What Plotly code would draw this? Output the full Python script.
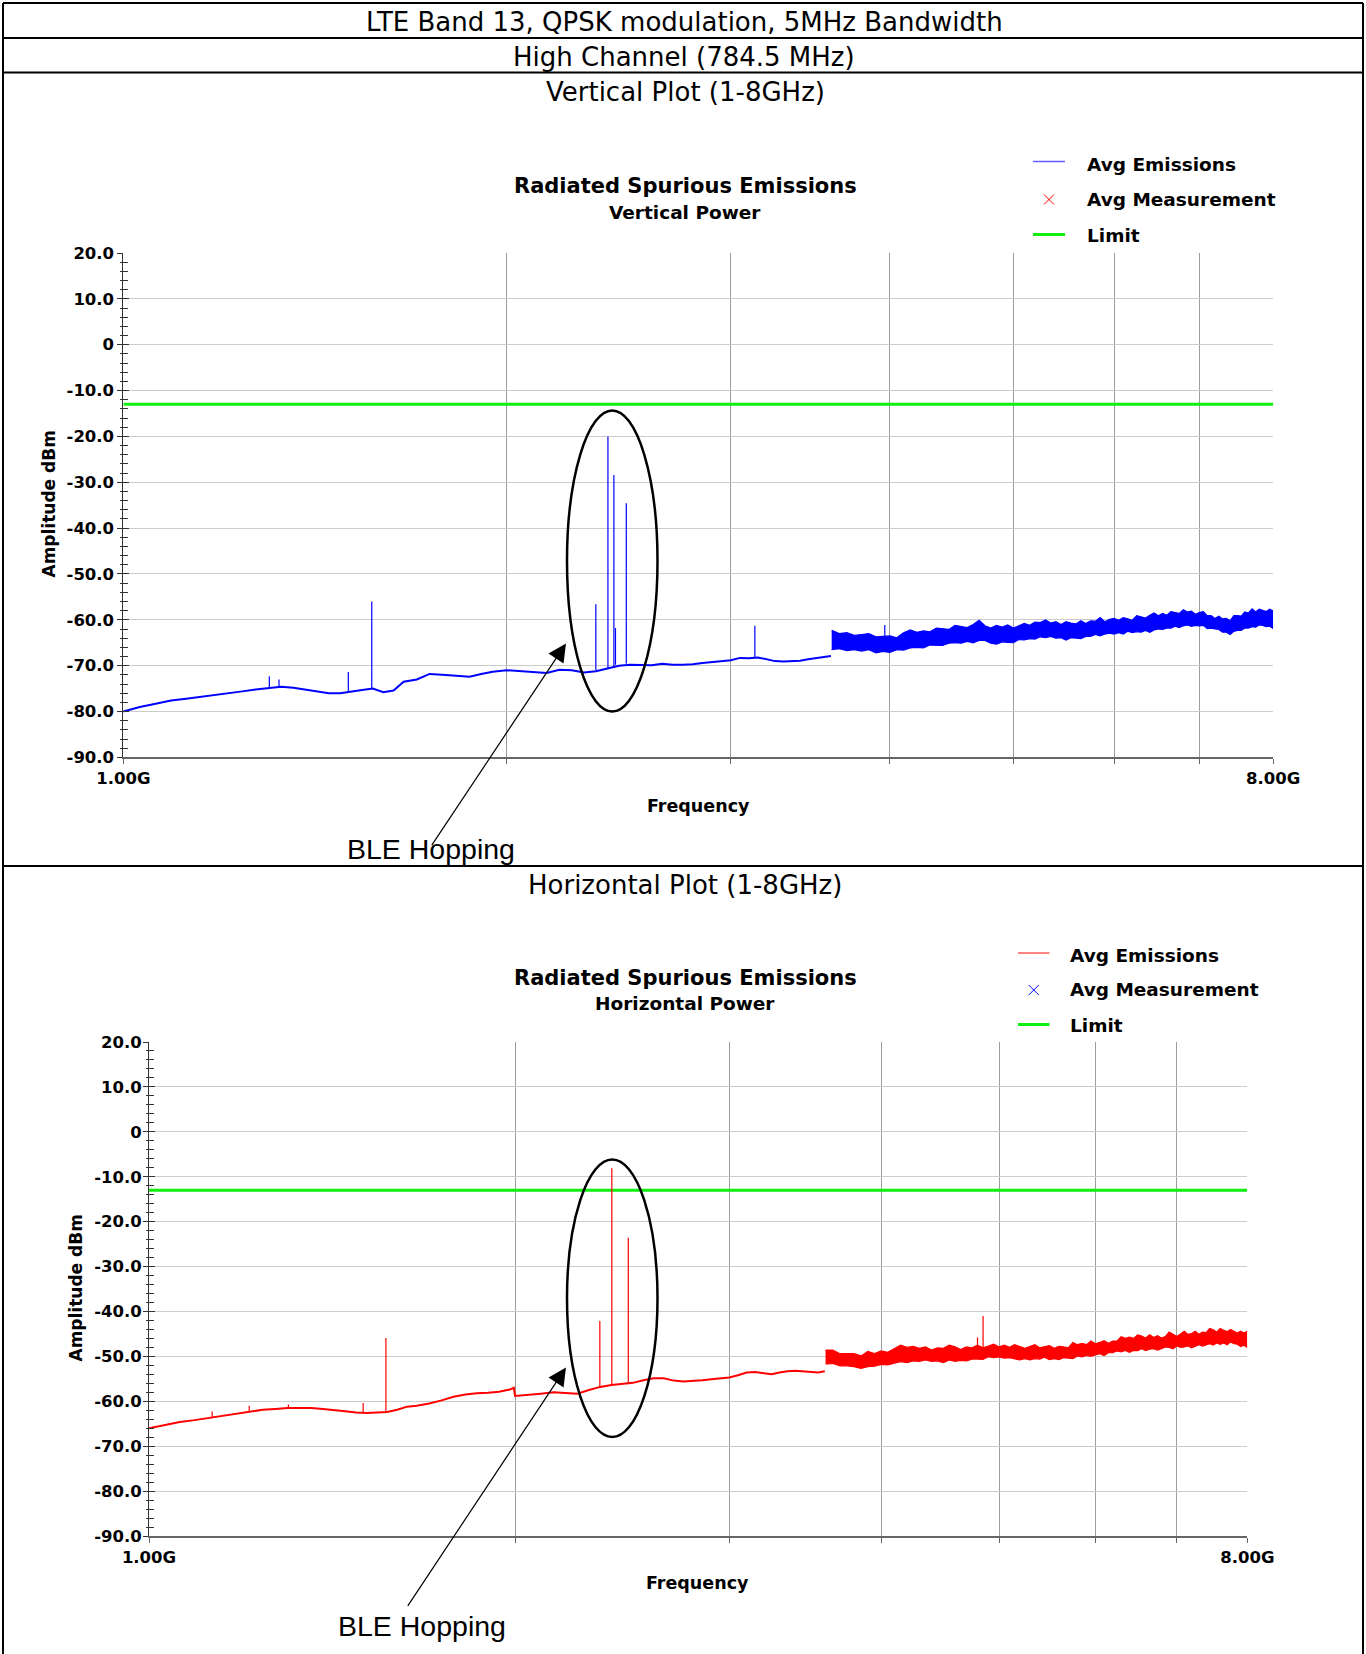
import math
import plotly.graph_objects as go

W, H = 1366, 1654


def px(x):
    return x / W


def py(y):
    return 1 - y / H


# ------------------------------------------------------------------ data
limit_dbm = -13.0
ytick_vals = [20, 10, 0, -10, -20, -30, -40, -50, -60, -70, -80, -90]
ytick_text = ["20.0", "10.0", "0", "-10.0", "-20.0", "-30.0", "-40.0",
              "-50.0", "-60.0", "-70.0", "-80.0", "-90.0"]
xtick_vals = [1, 2, 3, 4, 5, 6, 7, 8]
xtick_text = ["1.00G", "", "", "", "", "", "", "8.00G"]

# ---- Vertical polarisation (GHz / dBm), lower (smooth) part
v_base_f = [1.00, 1.03, 1.06, 1.09, 1.12, 1.15, 1.18, 1.21, 1.24, 1.27, 1.30,
            1.33, 1.36, 1.39, 1.42, 1.45, 1.48, 1.51, 1.54, 1.57, 1.60, 1.63,
            1.66, 1.70, 1.74, 1.78, 1.82, 1.87, 1.91, 1.95, 2.00, 2.05, 2.10,
            2.15, 2.20, 2.25, 2.30, 2.35, 2.40, 2.45, 2.50, 2.55, 2.60, 2.65,
            2.70, 2.75, 2.80, 2.85, 2.90, 2.95, 3.00, 3.05, 3.10, 3.15, 3.20,
            3.25, 3.30, 3.35, 3.40, 3.45, 3.50, 3.55, 3.595]
v_base_db = [-80.0, -79.0, -78.3, -77.6, -77.2, -76.8, -76.5, -76.0, -75.6,
             -75.2, -74.9, -74.6, -74.8, -75.2, -75.5, -76.0, -76.0, -75.6,
             -75.3, -75.0, -75.8, -75.4, -73.5, -73.0, -71.8, -72.0, -72.2,
             -72.4, -71.8, -71.3, -71.0, -71.2, -71.4, -71.6, -70.9, -71.0,
             -71.5, -71.2, -70.6, -70.0, -69.8, -69.9, -69.9, -69.6, -69.8,
             -69.8, -69.7, -69.4, -69.2, -69.1, -68.8, -68.3, -68.4, -68.2,
             -68.6, -69.0, -69.1, -69.0, -68.9, -68.6, -68.3, -68.0, -67.9]
v_spike_f = [1.302, 1.325, 1.502, 1.567, 2.350, 2.402, 2.428, 2.435, 2.483,
             3.133, 3.963]
v_spike_base = [-74.9, -74.8, -75.8, -75.0, -71.0, -70.6, -70.4, -69.8,
                -69.6, -68.2, -64.5]
v_spike_peak = [-72.3, -73.0, -71.4, -56.0, -56.6, -20.0, -28.4, -61.8,
                -34.6, -61.3, -61.1]

# ---- noisy upper band (3.6 - 8 GHz): read top / bottom edge of the trace
band_f = [3.60, 3.65, 3.70, 3.75, 3.80, 3.85, 3.90, 3.95, 4.00, 4.05, 4.10,
          4.15, 4.20, 4.25, 4.30, 4.35, 4.40, 4.45, 4.50, 4.55, 4.60, 4.65,
          4.70, 4.75, 4.80, 4.85, 4.90, 4.95, 5.00, 5.05, 5.10, 5.15, 5.20,
          5.25, 5.30, 5.35, 5.40, 5.45, 5.50, 5.55, 5.60, 5.65, 5.70, 5.75,
          5.80, 5.85, 5.90, 5.95, 6.00, 6.05, 6.10, 6.15, 6.20, 6.25, 6.30,
          6.35, 6.40, 6.45, 6.50, 6.55, 6.60, 6.65, 6.70, 6.75, 6.80, 6.85,
          6.90, 6.95, 7.00, 7.05, 7.10, 7.15, 7.20, 7.25, 7.30, 7.35, 7.40,
          7.45, 7.50, 7.55, 7.60, 7.65, 7.70, 7.75, 7.80, 7.85, 7.90, 7.95,
          8.00]
v_band_hi = [-62.3, -63.0, -62.8, -63.4, -63.2, -63.0, -63.7, -63.6, -63.5,
             -63.9, -62.8, -62.2, -62.7, -62.4, -62.6, -61.8, -62.0, -62.1,
             -61.2, -61.5, -61.7, -61.0, -60.1, -61.3, -61.8, -61.2, -61.6,
             -61.1, -61.8, -61.3, -60.8, -61.2, -60.5, -60.6, -60.0, -60.7,
             -60.4, -61.0, -60.4, -60.7, -60.9, -60.2, -60.8, -60.2, -60.3,
             -59.5, -60.4, -59.9, -59.7, -60.1, -59.5, -59.8, -60.1, -59.1,
             -59.4, -59.6, -59.0, -58.5, -59.1, -58.6, -59.0, -58.2, -58.4,
             -58.6, -57.8, -58.3, -58.1, -58.8, -58.4, -58.2, -59.1, -59.1,
             -59.7, -59.2, -59.8, -59.7, -60.2, -59.1, -59.1, -59.2, -58.3,
             -58.5, -57.6, -58.3, -57.7, -57.9, -58.2, -57.7, -58.1]
v_band_lo = [-66.5, -66.3, -66.7, -66.5, -66.8, -66.5, -67.2, -66.9, -67.1,
             -66.5, -66.6, -66.1, -66.0, -66.1, -65.5, -65.6, -65.6, -65.1,
             -65.0, -65.1, -64.7, -65.0, -64.5, -64.5, -65.1, -65.3, -64.8,
             -64.9, -65.0, -64.3, -64.4, -64.1, -64.2, -63.7, -63.9, -63.6,
             -64.0, -63.9, -64.4, -63.9, -64.0, -64.1, -63.6, -63.6, -63.2,
             -63.5, -63.1, -62.9, -63.1, -62.8, -63.1, -62.5, -62.8, -62.6,
             -62.7, -62.3, -62.7, -62.2, -62.0, -62.1, -61.8, -61.8, -61.4,
             -61.7, -61.3, -61.1, -61.4, -61.2, -61.3, -61.2, -61.9, -61.8,
             -62.0, -62.1, -62.7, -62.7, -63.2, -62.5, -62.3, -62.3, -61.8,
             -61.8, -61.5, -61.6, -61.1, -61.2, -61.5, -61.4, -61.9]

# ---- Horizontal polarisation (GHz / dBm), lower (smooth) part
h_base_f = [1.00, 1.03, 1.06, 1.09, 1.12, 1.15, 1.18, 1.21, 1.24, 1.27, 1.30,
            1.33, 1.36, 1.39, 1.42, 1.45, 1.48, 1.51, 1.54, 1.57, 1.60, 1.63,
            1.66, 1.70, 1.74, 1.78, 1.82, 1.86, 1.90, 1.94, 1.98, 1.995, 2.00,
            2.05, 2.10, 2.15, 2.20, 2.25, 2.30, 2.35, 2.40, 2.45, 2.50, 2.55,
            2.60, 2.65, 2.70, 2.75, 2.80, 2.85, 2.90, 2.95, 3.00, 3.05, 3.10,
            3.15, 3.20, 3.25, 3.30, 3.35, 3.40, 3.45, 3.50, 3.55, 3.595]
h_base_db = [-66.0, -65.3, -64.6, -64.2, -63.7, -63.2, -62.7, -62.2, -61.9,
             -61.7, -61.5, -61.5, -61.5, -61.7, -61.9, -62.2, -62.5, -62.6,
             -62.5, -62.4, -61.9, -61.2, -61.0, -60.5, -59.8, -59.0, -58.5,
             -58.2, -58.1, -57.9, -57.4, -57.0, -58.8, -58.6, -58.3, -58.0,
             -58.1, -58.3, -57.5, -56.8, -56.4, -56.2, -55.9, -55.3, -54.9,
             -54.9, -55.4, -55.6, -55.5, -55.3, -55.1, -54.9, -54.7, -54.2,
             -53.6, -53.5, -53.8, -54.0, -53.6, -53.3, -53.2, -53.3, -53.5,
             -53.6, -53.3]
h_spike_f = [1.127, 1.209, 1.302, 1.500, 1.566, 2.348, 2.402, 2.478, 4.800,
             4.851]
h_spike_base = [-63.6, -62.2, -61.5, -62.6, -62.4, -56.8, -56.4, -56.2,
                -49.5, -49.3]
h_spike_peak = [-62.3, -61.0, -60.7, -60.4, -45.9, -42.1, -8.1, -23.6,
                -45.8, -41.0]
h_band_hi = [-48.6, -48.6, -49.4, -49.4, -49.4, -49.9, -48.9, -49.4, -48.8,
             -49.1, -48.2, -47.5, -48.0, -47.8, -48.2, -47.9, -48.6, -48.1,
             -48.2, -47.5, -47.9, -48.5, -47.9, -48.1, -47.5, -48.1, -47.7,
             -47.3, -47.9, -47.5, -48.0, -47.4, -47.8, -48.2, -47.8, -47.4,
             -48.1, -47.9, -47.6, -48.2, -47.8, -47.9, -48.1, -46.9, -47.4,
             -47.1, -47.4, -46.6, -47.2, -46.9, -46.5, -47.1, -46.6, -46.6,
             -45.6, -46.0, -45.7, -46.0, -45.2, -45.5, -45.9, -45.2, -45.8,
             -45.4, -45.9, -45.6, -44.6, -45.1, -45.6, -45.0, -44.4, -45.1,
             -44.9, -44.4, -45.1, -44.6, -44.7, -43.8, -44.1, -44.6, -43.8,
             -44.2, -44.5, -44.0, -44.4, -44.8, -44.4, -44.8, -44.4]
h_band_lo = [-51.7, -51.6, -52.1, -52.1, -52.3, -52.7, -52.3, -52.2, -51.8,
             -51.9, -51.5, -51.2, -51.4, -51.0, -51.1, -50.8, -51.1, -51.0,
             -51.4, -50.8, -51.1, -50.9, -51.0, -50.6, -50.6, -50.7, -50.1,
             -50.3, -50.1, -50.4, -50.3, -50.5, -50.8, -50.5, -50.8, -50.5,
             -50.6, -50.2, -50.7, -50.5, -50.7, -50.3, -50.4, -50.5, -49.9,
             -50.1, -49.8, -50.0, -49.7, -49.4, -49.8, -49.2, -49.2, -48.8,
             -49.0, -48.7, -49.1, -48.7, -48.7, -48.3, -48.7, -48.4, -48.3,
             -48.6, -48.3, -47.9, -48.0, -48.3, -47.7, -48.0, -47.9, -47.7,
             -48.1, -47.8, -47.4, -47.7, -47.4, -47.2, -47.5, -47.0, -47.3,
             -47.0, -47.4, -46.8, -47.2, -47.3, -47.8, -47.5, -48.0]

# ------------------------------------------------------------------ style
BLUE = "#0000ff"
RED = "#ff0000"
GREEN = "#11ee11"
TXT = "DejaVu Sans"
AX = "#333333"

fig = go.Figure()


def add_panel(xa, ya, color, bf, bdb, sf, sb, sp, bandf, bandhi, bandlo):
    fig.add_trace(go.Scatter(x=[xtick_vals[0], xtick_vals[-1]],
                             y=[limit_dbm, limit_dbm], mode="lines",
                             line=dict(color=GREEN, width=3),
                             xaxis=xa, yaxis=ya, showlegend=False,
                             hoverinfo="skip"))
    fig.add_trace(go.Scatter(x=bf, y=bdb, mode="lines",
                             line=dict(color=color, width=2),
                             xaxis=xa, yaxis=ya, showlegend=False))
    fig.add_trace(go.Scatter(x=bandf, y=bandlo, mode="lines",
                             line=dict(color=color, width=1.2),
                             xaxis=xa, yaxis=ya, showlegend=False))
    fig.add_trace(go.Scatter(x=bandf, y=bandhi, mode="lines", fill="tonexty",
                             fillcolor=color,
                             line=dict(color=color, width=1.2),
                             xaxis=xa, yaxis=ya, showlegend=False))
    spx, spy = [], []
    for f, b, p in zip(sf, sb, sp):
        spx += [f, f, None]
        spy += [b, p, None]
    fig.add_trace(go.Scatter(x=spx, y=spy, mode="lines",
                             line=dict(color=color, width=1.2),
                             xaxis=xa, yaxis=ya, showlegend=False))


add_panel("x", "y", BLUE, v_base_f, v_base_db, v_spike_f, v_spike_base,
          v_spike_peak, band_f, v_band_hi, v_band_lo)
add_panel("x2", "y2", RED, h_base_f, h_base_db, h_spike_f, h_spike_base,
          h_spike_peak, band_f, h_band_hi, h_band_lo)
# placeholders so the overlay (inside-tick) axes are drawn
fig.add_trace(go.Scatter(x=[None], y=[None], xaxis="x", yaxis="y3",
                         showlegend=False, hoverinfo="skip"))
fig.add_trace(go.Scatter(x=[None], y=[None], xaxis="x2", yaxis="y4",
                         showlegend=False, hoverinfo="skip"))

tickfont = dict(family=TXT, size=16.5, color="black", weight="bold")
xrange = [math.log10(xtick_vals[0]), math.log10(xtick_vals[-1])]
yrange = [ytick_vals[-1], ytick_vals[0]]


def xaxis(domain, anchor):
    return dict(domain=domain, anchor=anchor, type="log", range=xrange,
                tickmode="array", tickvals=xtick_vals, ticktext=xtick_text,
                ticks="outside", ticklen=5, tickcolor="#666666",
                showline=True, linecolor="#666666", linewidth=1.5,
                showgrid=True, gridcolor="#9c9c9c", gridwidth=1,
                zeroline=False, tickfont=tickfont, fixedrange=True,
                automargin=False)


def yaxis(domain, anchor, standoff):
    return dict(domain=domain, anchor=anchor, range=yrange, tickmode="array",
                tickvals=ytick_vals, ticktext=ytick_text, ticks="outside",
                ticklen=5, tickcolor=AX, showline=True, linecolor=AX,
                linewidth=1, showgrid=True, gridcolor="#cccccc", gridwidth=1,
                zeroline=False, tickfont=tickfont, ticklabelstandoff=standoff,
                minor=dict(ticks="outside", ticklen=2, tickmode="linear",
                           tick0=0, dtick=2, tickcolor=AX, showgrid=False),
                fixedrange=True, automargin=False)


def yover(over, anchor):
    return dict(overlaying=over, anchor=anchor, side="left", range=yrange,
                tickmode="array", tickvals=ytick_vals, ticks="inside",
                ticklen=6, tickcolor=AX, showticklabels=False,
                showgrid=False, zeroline=False, showline=False,
                minor=dict(ticks="inside", ticklen=5, tickmode="linear",
                           tick0=0, dtick=2, tickcolor=AX, showgrid=False),
                fixedrange=True, automargin=False)


fig.update_layout(
    width=W, height=H, autosize=False,
    margin=dict(l=0, r=0, t=0, b=0, pad=0, autoexpand=False),
    paper_bgcolor="white", plot_bgcolor="white", showlegend=False,
    xaxis=xaxis([px(123.4), px(1273.2)], "y"),
    yaxis=yaxis([py(757.4), py(253)], "x", 0),
    xaxis2=xaxis([px(149), px(1247.3)], "y2"),
    yaxis2=yaxis([py(1536), py(1042)], "x2", -2),
    yaxis3=yover("y", "x"),
    yaxis4=yover("y2", "x2"),
)

# ------------------------------------------------------------------ frame
shapes = []


def pline(x0, y0, x1, y1, color="black", width=2):
    shapes.append(dict(type="line", xref="paper", yref="paper",
                       x0=px(x0), y0=py(y0), x1=px(x1), y1=py(y1),
                       line=dict(color=color, width=width)))


pline(3, 3, 1363, 3)
pline(3, 38, 1363, 38)
pline(3, 72.5, 1363, 72.5)
pline(3, 866, 1363, 866)
pline(3, 3, 3, 1654)
pline(1363, 3, 1363, 1654)

# ellipses
for (x0, y0, x1, y1) in [(567, 410.5, 657.5, 711.5), (567, 1159.5, 657.5, 1437)]:
    shapes.append(dict(type="circle", xref="paper", yref="paper",
                       x0=px(x0), x1=px(x1), y0=py(y1), y1=py(y0),
                       line=dict(color="black", width=2.5)))


# legend samples
def legend_block(sx0, sx1, tx, rows, line_color, x_color):
    r1, r2, r3 = rows
    pline(sx0, r1 - 2.5, sx1, r1 - 2.5, color=line_color, width=1.5)
    cx = (sx0 + sx1) / 2
    pline(cx - 5, r2 - 5, cx + 5, r2 + 5, color=x_color, width=1)
    pline(cx - 5, r2 + 5, cx + 5, r2 - 5, color=x_color, width=1)
    pline(sx0, r3 - 0.5, sx1, r3 - 0.5, color=GREEN, width=3)
    out = []
    for lab, r in zip(["Avg Emissions", "Avg Measurement", "Limit"], rows):
        out.append(dict(text=lab, x=px(tx), y=py(r), xanchor="left",
                        yanchor="middle"))
    return out


leg_top = legend_block(1033, 1065, 1085, (164, 199.5, 235), "#5c5cff", RED)
leg_bot = legend_block(1018, 1049.5, 1068, (955.5, 990, 1025), "#ff5c5c", BLUE)

fig.update_layout(shapes=shapes)

# ------------------------------------------------------------------ text
ann = []


def text(t, x, y, size, bold=False, family=TXT, angle=0, anchor="center"):
    ann.append(dict(text=t, x=px(x), y=py(y), xref="paper", yref="paper",
                    xanchor=anchor, yanchor="middle", showarrow=False,
                    textangle=angle,
                    font=dict(family=family, size=size, color="black",
                              weight="bold" if bold else "normal")))


text("LTE Band 13, QPSK modulation, 5MHz Bandwidth", 684, 22.5, 26)
text("High Channel (784.5 MHz)", 684, 57, 26)
text("Vertical Plot (1-8GHz)", 685, 92, 26)
text("Horizontal Plot (1-8GHz)", 685, 885, 26)

text("Radiated Spurious Emissions", 685, 186, 21, bold=True)
text("Vertical Power", 685, 212, 18.5, bold=True)
text("Radiated Spurious Emissions", 685, 977.5, 21, bold=True)
text("Horizontal Power", 685, 1003.5, 18.5, bold=True)

text("Frequency", 698, 806, 17.5, bold=True)
text("Frequency", 697, 1582.5, 17.5, bold=True)
text("Amplitude dBm", 48.5, 504, 17, bold=True, angle=-90)
text("Amplitude dBm", 75.5, 1288, 17, bold=True, angle=-90)

text("BLE Hopping", 431, 849, 28.5, family="Liberation Sans")
text("BLE Hopping", 422, 1625.5, 28.5, family="Liberation Sans")

for a in leg_top + leg_bot:
    a.update(xref="paper", yref="paper", showarrow=False,
             font=dict(family=TXT, size=18.5, color="black", weight="bold"))
    ann.append(a)

# arrows
for (hx, hy, tx, ty) in [(566, 643.5, 430.8, 846.7), (566, 1367.5, 406.8, 1607.3)]:
    ann.append(dict(text="", x=px(hx), y=py(hy), xref="paper", yref="paper",
                    showarrow=True, ax=tx - hx, ay=ty - hy, arrowhead=2,
                    arrowsize=3, arrowwidth=1.2, arrowcolor="black",
                    standoff=0))

fig.update_layout(annotations=ann)

fig.write_html(
    "out.html",
    config={"displayModeBar": False},
    post_script="document.body.style.margin='0px';"
                "document.body.style.overflow='hidden';",
)
